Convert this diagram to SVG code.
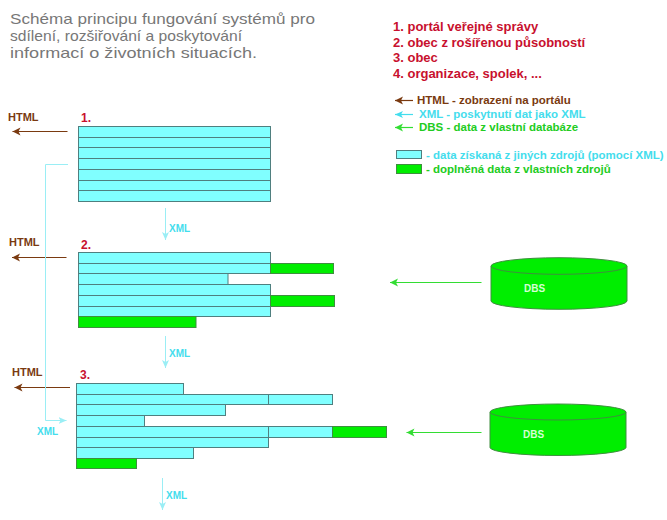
<svg xmlns="http://www.w3.org/2000/svg" width="667" height="520" viewBox="0 0 667 520">
<style>
  text { font-family: "Liberation Sans", Arial, sans-serif; }
  .title { font-size: 15px; fill: #777777; }
  .num { font-size: 13px; font-weight: bold; fill: #c8102e; }
  .lbl { font-size: 11.5px; font-weight: bold; }
  .brown { fill: #7a3a10; }
  .cyan { fill: #44dded; }
  .green { fill: #22cc22; }
  .c { fill: #80ffff; stroke: #4f7f7f; stroke-width: 1; }
  .g { fill: #00ee00; stroke: #3f8f3f; stroke-width: 1; }
  .html { stroke: #7a3a10; stroke-width: 1.2; fill: none; }
  .xml { stroke: #9aeef5; stroke-width: 1; fill: none; }
  .dbs { stroke: #33dd33; stroke-width: 1.2; fill: none; }
  .cyl { fill: #00ee00; stroke: #3f8f3f; stroke-width: 1; }
  .dbstxt { font-size: 10px; font-weight: bold; fill: #d4ffd4; }
</style>
<defs>
  <marker id="mb" markerUnits="userSpaceOnUse" markerWidth="9" markerHeight="9" refX="8" refY="4" orient="auto">
    <path d="M0,0 L8,4 L0,8 L2,4 Z" fill="#7a3a10"/>
  </marker>
  <marker id="mg" markerUnits="userSpaceOnUse" markerWidth="9" markerHeight="9" refX="8" refY="4" orient="auto">
    <path d="M0,0 L8,4 L0,8 L2,4 Z" fill="#33dd33"/>
  </marker>
  <marker id="mc" markerUnits="userSpaceOnUse" markerWidth="9" markerHeight="9" refX="8" refY="4" orient="auto">
    <path d="M0,0.5 L8,4 L0,7.5 L2,4 Z" fill="#9aeef5"/>
  </marker>
  <marker id="mc2" markerUnits="userSpaceOnUse" markerWidth="9" markerHeight="9" refX="8" refY="4" orient="auto">
    <path d="M0,0.5 L8,4 L0,7.5 L2,4 Z" fill="#44dded"/>
  </marker>
</defs>

<g id="title">
  <text class="title" x="10" y="24" textLength="305" lengthAdjust="spacingAndGlyphs">Schéma principu fungování systémů pro</text>
  <text class="title" x="10" y="41" textLength="232" lengthAdjust="spacingAndGlyphs">sdílení, rozšiřování a poskytování</text>
  <text class="title" x="10" y="58" textLength="247" lengthAdjust="spacingAndGlyphs">informací o životních situacích.</text>
</g>

<g id="legend">
  <text class="num" x="393" y="31">1. portál veřejné správy</text>
  <text class="num" x="393" y="46.5">2. obec z rošířenou působností</text>
  <text class="num" x="393" y="62">3. obec</text>
  <text class="num" x="393" y="77.5">4. organizace, spolek, ...</text>

  <line class="html" x1="413" y1="100.5" x2="395" y2="100.5" marker-end="url(#mb)"/>
  <text class="lbl brown" x="417" y="104">HTML - zobrazení na portálu</text>
  <line x1="413" y1="114.5" x2="395" y2="114.5" stroke="#44dded" stroke-width="1.2" marker-end="url(#mc2)"/>
  <text class="lbl cyan" x="419" y="118">XML - poskytnutí dat jako XML</text>
  <line class="dbs" x1="413" y1="127.5" x2="395" y2="127.5" marker-end="url(#mg)"/>
  <text class="lbl green" x="419" y="131">DBS - data z vlastní databáze</text>

  <rect class="c" x="396.5" y="150.5" width="25" height="8"/>
  <text class="lbl cyan" x="426" y="159">- data získaná z jiných zdrojů (pomocí XML)</text>
  <rect class="g" x="396.5" y="164.5" width="25" height="9"/>
  <text class="lbl green" x="426" y="173">- doplněná data z vlastních zdrojů</text>
</g>

<g id="node1">
  <text class="num" x="81" y="122" style="font-size:12px">1.</text>
  <rect class="c" x="78.5" y="126.5" width="192" height="11"/>
  <rect class="c" x="78.5" y="137.5" width="192" height="10"/>
  <rect class="c" x="78.5" y="147.5" width="192" height="11"/>
  <rect class="c" x="78.5" y="158.5" width="192" height="11"/>
  <rect class="c" x="78.5" y="169.5" width="192" height="11"/>
  <rect class="c" x="78.5" y="180.5" width="192" height="10"/>
  <rect class="c" x="78.5" y="190.5" width="192" height="11"/>
</g>

<g id="node2">
  <text class="num" x="81" y="249" style="font-size:12px">2.</text>
  <rect class="c" x="78.5" y="252.5" width="192" height="11"/>
  <rect class="c" x="78.5" y="263.5" width="192" height="10"/>
  <rect class="g" x="270.5" y="263.5" width="63" height="10"/>
  <rect class="c" x="78.5" y="273.5" width="149.5" height="11"/>
  <rect class="c" x="78.5" y="284.5" width="192" height="11"/>
  <rect class="c" x="78.5" y="295.5" width="192" height="11"/>
  <rect class="g" x="270.5" y="295.5" width="64" height="11"/>
  <rect class="c" x="78.5" y="306.5" width="192" height="10"/>
  <rect class="g" x="78.5" y="316.5" width="117.5" height="11"/>
</g>

<g id="node3">
  <text class="num" x="80" y="379" style="font-size:12px">3.</text>
  <rect class="c" x="76.5" y="383.5" width="107" height="11"/>
  <rect class="c" x="76.5" y="394.5" width="192" height="10"/>
  <rect class="c" x="268.5" y="394.5" width="64" height="10"/>
  <rect class="c" x="76.5" y="404.5" width="149" height="11"/>
  <rect class="c" x="76.5" y="415.5" width="68" height="11"/>
  <rect class="c" x="76.5" y="426.5" width="192" height="11"/>
  <rect class="c" x="268.5" y="426.5" width="64" height="11"/>
  <rect class="g" x="332.5" y="426.5" width="54" height="11"/>
  <rect class="c" x="76.5" y="437.5" width="192" height="10"/>
  <rect class="c" x="76.5" y="447.5" width="117" height="11"/>
  <rect class="g" x="76.5" y="458.5" width="60" height="10"/>
</g>

<g id="dbs1">
  <path class="cyl" d="M491,266 L491,301 A68,8.3 0 0 0 627,301 L627,266 Z"/>
  <ellipse class="cyl" cx="559" cy="266" rx="68" ry="8.3"/>
  <text class="dbstxt" x="524" y="292">DBS</text>
</g>

<g id="dbs2">
  <path class="cyl" d="M490,412 L490,447.5 A68,8 0 0 0 626,447.5 L626,412 Z"/>
  <ellipse class="cyl" cx="558" cy="412" rx="68" ry="8"/>
  <text class="dbstxt" x="523" y="438">DBS</text>
</g>

<g id="connectors">
  <line class="html" x1="67.5" y1="131.5" x2="12.5" y2="131.5" marker-end="url(#mb)"/>
  <text class="lbl brown" x="8" y="121" style="font-size:11px">HTML</text>
  <line class="html" x1="66.5" y1="257.5" x2="12" y2="257.5" marker-end="url(#mb)"/>
  <text class="lbl brown" x="9" y="246" style="font-size:11px">HTML</text>
  <line class="html" x1="70" y1="387.5" x2="14.5" y2="387.5" marker-end="url(#mb)"/>
  <text class="lbl brown" x="12" y="376" style="font-size:11px">HTML</text>

  <line class="xml" x1="165.5" y1="208" x2="165.5" y2="240" marker-end="url(#mc)"/>
  <text class="lbl cyan" x="169" y="232" style="font-size:10px">XML</text>
  <line class="xml" x1="165.5" y1="336" x2="165.5" y2="368" marker-end="url(#mc)"/>
  <text class="lbl cyan" x="169" y="357" style="font-size:10px">XML</text>
  <line class="xml" x1="162.5" y1="478" x2="162.5" y2="510" marker-end="url(#mc)"/>
  <text class="lbl cyan" x="166" y="499" style="font-size:10px">XML</text>

  <path class="xml" d="M68,164.5 H45.5 V420.5 H66.5" marker-end="url(#mc)"/>
  <text class="lbl cyan" x="37" y="435" style="font-size:10px">XML</text>

  <line class="dbs" x1="481.5" y1="282.5" x2="390" y2="282.5" marker-end="url(#mg)"/>
  <line class="dbs" x1="481.5" y1="432.5" x2="406.5" y2="432.5" marker-end="url(#mg)"/>
</g>
</svg>
